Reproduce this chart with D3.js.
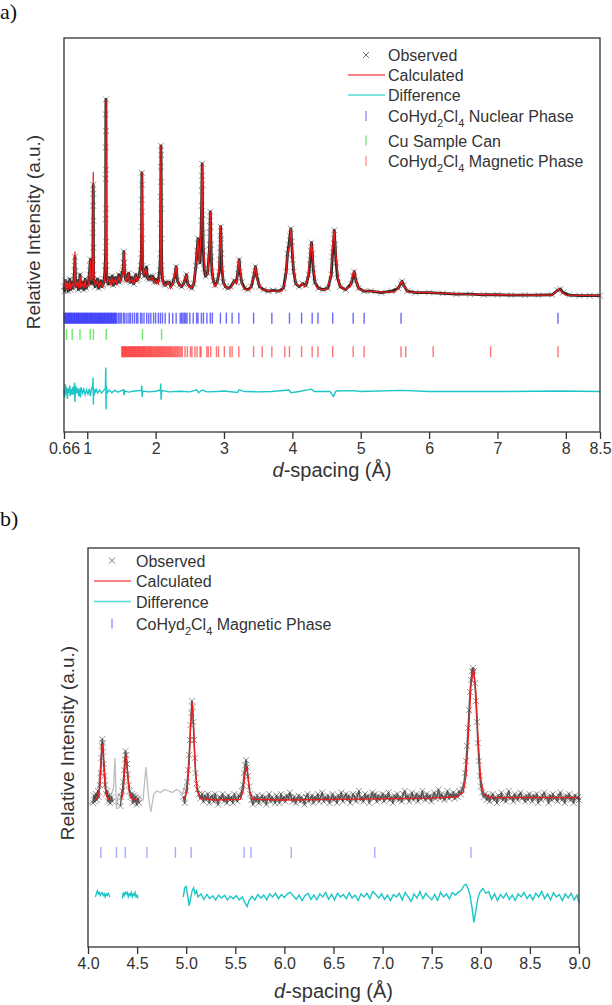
<!DOCTYPE html>
<html>
<head>
<meta charset="utf-8">
<script src="https://cdn.jsdelivr.net/npm/d3@7"></script>
<style>
body { margin: 0; background: #fff; }
svg { display: block; font-family: "Liberation Sans", Arial, sans-serif; }
</style>
</head>
<body>
<div id="chart"></div>
<script>
// ---------- panel a data (d-spacing in Å, intensity in a.u.) ----------
const obsA = [
    [0.66,0.2],[0.67,0.05],[0.68,0.4],[0.69,0.15],[0.70,0.25],[0.71,0.35],[0.72,0.05],[0.73,0.2],[0.745,0.45],[0.755,0.1],
    [0.765,0.25],[0.78,0.35],[0.79,0.15],[0.80,0.3],[0.81,0.55],[0.816,0.9],[0.82,1.2],[0.824,0.7],[0.83,0.3],[0.845,0.2],
    [0.86,0.4],[0.87,0.1],[0.885,0.3],[0.895,0.6],[0.905,0.15],[0.92,0.25],[0.935,0.35],[0.95,0.1],[0.96,0.3],[0.97,0.45],
    [0.985,0.15],[1.0,0.25],[1.015,0.3],[1.03,0.6],[1.04,0.9],[1.045,1.1],[1.05,0.5],[1.06,0.3],[1.075,0.55],
    [1.082,1.1],[1.084,2.0],[1.086,2.9],[1.087,3.6],[1.089,3.3],[1.09,2.4],[1.091,1.5],[1.093,0.6],
    [1.10,0.35],[1.115,0.2],[1.13,0.35],[1.15,0.45],[1.165,0.15],[1.18,0.3],[1.2,0.4],[1.215,0.2],[1.23,0.25],[1.25,0.45],[1.262,0.9],
    [1.268,1.35],[1.27,2.45],[1.2705,3.8],[1.271,4.85],[1.272,5.95],[1.2735,6.45],[1.275,5.4],[1.276,4.1],[1.277,2.8],[1.278,1.7],[1.28,0.9],
    [1.29,0.4],[1.305,0.3],[1.32,0.5],[1.335,0.3],[1.35,0.4],[1.365,0.55],[1.38,0.25],[1.395,0.4],[1.41,0.5],[1.425,0.3],
    [1.44,0.4],[1.46,0.6],[1.475,0.35],[1.49,0.45],[1.51,0.65],[1.525,0.75],[1.532,1.0],[1.535,1.37],[1.54,1.0],[1.545,0.7],
    [1.56,0.45],[1.575,0.4],[1.59,0.55],[1.605,0.65],[1.62,0.4],[1.635,0.35],[1.65,0.5],[1.665,0.4],[1.68,0.3],[1.695,0.45],
    [1.71,0.6],[1.725,0.4],[1.74,0.45],[1.76,0.55],[1.78,0.9],
    [1.792,1.3],[1.795,2.2],[1.797,3.1],[1.799,4.0],[1.801,3.6],[1.803,2.7],[1.805,1.8],[1.808,0.9],
    [1.82,0.7],[1.835,0.55],[1.85,0.7],[1.865,0.85],[1.88,0.5],[1.9,0.45],[1.92,0.55],[1.94,0.45],[1.96,0.55],[1.98,0.35],
    [2.0,0.45],[2.02,0.35],[2.04,0.4],[2.06,0.75],
    [2.07,1.3],[2.073,2.3],[2.075,3.2],[2.077,4.2],[2.078,4.9],[2.08,4.6],[2.082,3.7],[2.084,2.8],[2.086,1.8],[2.089,0.9],
    [2.1,0.45],[2.12,0.3],[2.14,0.25],[2.16,0.35],[2.18,0.3],[2.2,0.35],[2.22,0.2],[2.25,0.3],[2.28,0.55],[2.3,0.87],
    [2.32,0.4],[2.35,0.25],[2.38,0.2],[2.41,0.3],[2.44,0.5],[2.45,0.6],[2.47,0.3],[2.5,0.2],[2.53,0.15],[2.56,0.3],[2.59,0.9],
    [2.605,1.4],[2.62,1.8],[2.635,1.2],[2.65,1.0],[2.66,1.6],[2.668,2.4],[2.673,2.9],[2.676,3.4],[2.679,3.9],[2.681,4.3],
    [2.684,3.6],[2.688,2.6],[2.692,2.0],[2.698,1.4],[2.71,0.8],[2.73,0.55],[2.76,0.65],[2.78,1.2],
    [2.79,1.6],[2.795,2.0],[2.798,2.4],[2.80,2.7],[2.805,2.2],[2.81,1.6],[2.815,1.2],[2.825,0.7],
    [2.845,0.4],[2.87,0.25],[2.9,0.35],[2.93,0.7],
    [2.94,1.1],[2.945,1.5],[2.948,1.9],[2.952,2.2],[2.957,1.8],[2.963,1.3],[2.97,0.8],
    [2.99,0.35],[3.02,0.2],[3.06,0.15],[3.1,0.2],[3.15,0.4],[3.18,0.35],[3.21,0.8],[3.222,1.1],[3.235,0.7],[3.26,0.35],
    [3.3,0.15],[3.35,0.1],[3.4,0.2],[3.44,0.6],[3.46,0.87],[3.48,0.55],[3.52,0.2],[3.58,0.1],[3.65,0.05],[3.72,0.08],
    [3.8,0.05],[3.87,0.15],[3.91,0.7],[3.93,1.3],[3.95,1.6],[3.965,1.9],[3.978,2.13],[3.99,1.7],[4.005,1.1],[4.02,0.7],
    [4.05,0.3],[4.1,0.2],[4.15,0.3],[4.2,0.25],[4.24,0.6],[4.26,1.1],[4.27,1.4],[4.28,1.67],[4.292,1.3],[4.305,0.8],
    [4.33,0.35],[4.38,0.15],[4.45,0.1],[4.52,0.15],[4.57,0.6],[4.585,1.2],[4.597,1.5],[4.607,1.8],[4.613,2.08],[4.625,1.6],
    [4.64,1.0],[4.66,0.5],[4.7,0.2],[4.78,0.1],[4.86,0.3],[4.89,0.55],[4.905,0.7],[4.93,0.4],[4.97,0.15],[5.05,0.05],
    [5.15,0.05],[5.3,0.0],[5.45,0.05],[5.55,0.15],[5.585,0.3],[5.605,0.38],[5.63,0.25],[5.68,0.05],[5.8,0.0],[6.0,0.0],
    [6.2,-0.02],[6.4,-0.05],[6.6,-0.05],[6.8,-0.07],[7.0,-0.07],[7.2,-0.08],[7.4,-0.08],[7.6,-0.08],[7.8,-0.07],[7.88,0.08],
    [7.92,0.12],[7.96,0.0],[8.05,-0.08],[8.2,-0.1],[8.35,-0.1],[8.5,-0.1]
]

const calcA = [
    [0.66,0.15],[0.68,0.45],[0.69,0.1],[0.71,0.35],[0.72,0.1],[0.745,0.4],[0.755,0.12],[0.78,0.3],[0.80,0.2],[0.815,0.6],
    [0.82,1.37],[0.825,0.5],[0.835,0.2],[0.86,0.35],[0.875,0.15],[0.895,0.55],[0.905,0.2],[0.93,0.3],[0.95,0.15],[0.97,0.4],
    [0.985,0.2],[1.02,0.25],[1.035,0.7],[1.045,1.1],[1.055,0.4],[1.075,0.5],[1.083,1.5],[1.088,4.03],[1.093,1.3],[1.10,0.4],
    [1.12,0.25],[1.15,0.4],[1.17,0.2],[1.2,0.35],[1.225,0.2],[1.25,0.4],[1.265,0.9],[1.274,6.44],[1.283,0.9],[1.295,0.35],
    [1.32,0.45],[1.34,0.25],[1.36,0.5],[1.38,0.3],[1.41,0.45],[1.43,0.3],[1.46,0.55],[1.48,0.35],[1.51,0.6],[1.525,0.7],
    [1.537,1.37],[1.55,0.6],[1.57,0.4],[1.6,0.6],[1.62,0.35],[1.65,0.45],[1.68,0.3],[1.71,0.55],[1.73,0.4],[1.76,0.5],
    [1.785,0.9],[1.80,4.03],[1.815,0.9],[1.83,0.6],[1.86,0.8],[1.88,0.5],[1.91,0.45],[1.95,0.5],[1.98,0.35],[2.01,0.4],
    [2.04,0.3],[2.065,0.7],[2.078,4.91],[2.09,0.7],[2.11,0.3],[2.15,0.25],[2.19,0.35],[2.22,0.15],[2.26,0.35],[2.3,0.87],
    [2.33,0.3],[2.37,0.2],[2.40,0.25],[2.45,0.6],[2.48,0.2],[2.52,0.15],[2.56,0.3],[2.6,1.2],[2.62,1.8],[2.64,1.0],
    [2.665,2.0],[2.68,4.3],[2.70,1.5],[2.73,0.6],[2.76,0.6],[2.785,1.4],[2.80,2.7],[2.815,1.2],[2.84,0.4],[2.87,0.2],
    [2.90,0.3],[2.93,0.9],[2.95,2.23],[2.97,0.9],[3.0,0.25],[3.05,0.15],[3.1,0.15],[3.15,0.4],[3.18,0.3],[3.22,1.1],
    [3.26,0.3],[3.3,0.1],[3.38,0.1],[3.43,0.5],[3.46,0.87],[3.49,0.4],[3.55,0.1],[3.7,0.05],[3.85,0.05],[3.9,0.4],
    [3.93,1.3],[3.96,1.6],[3.98,2.13],[4.01,1.0],[4.05,0.3],[4.1,0.2],[4.14,0.3],[4.18,0.2],[4.23,0.5],[4.26,1.3],
    [4.28,1.67],[4.31,0.8],[4.35,0.2],[4.42,0.1],[4.5,0.1],[4.56,0.5],[4.59,1.6],[4.61,2.08],[4.64,1.2],[4.68,0.3],
    [4.75,0.1],[4.85,0.2],[4.88,0.6],[4.90,0.7],[4.93,0.4],[4.98,0.1],[5.1,0.05],[5.3,0.03],[5.5,0.02],[5.56,0.2],
    [5.6,0.38],[5.64,0.2],[5.7,0.02],[6.0,0.0],[6.5,-0.05],[7.0,-0.07],[7.5,-0.08],[7.8,-0.08],[7.86,0.05],[7.9,0.12],
    [7.95,0.0],[8.0,-0.08],[8.5,-0.1]
]

// observed - calculated, around its own zero line
const diffA = [
    [0.66,0.05],[0.67,-0.2],[0.68,0.25],[0.69,-0.1],[0.7,0.15],[0.71,-0.25],[0.72,0.1],[0.73,-0.05],[0.745,0.2],[0.75,-0.15],
    [0.76,0.1],[0.775,-0.1],[0.79,0.15],[0.80,-0.1],[0.815,0.3],[0.82,-0.35],[0.83,0.2],[0.845,-0.05],[0.86,0.12],[0.875,-0.15],
    [0.89,0.1],[0.9,-0.2],[0.91,0.15],[0.93,-0.05],[0.95,0.08],[0.97,-0.1],[0.99,0.05],[1.01,-0.08],[1.03,0.1],[1.045,-0.15],
    [1.06,0.05],[1.08,0.2],[1.085,0.47],[1.09,-0.43],[1.095,0.1],[1.11,-0.05],[1.13,0.08],[1.15,-0.05],[1.18,0.05],[1.21,-0.05],
    [1.24,0.04],[1.265,0.1],[1.271,0.8],[1.275,-0.6],[1.28,0.2],[1.29,-0.05],[1.32,0.05],[1.36,-0.04],[1.4,0.04],[1.45,-0.02],
    [1.5,0.03],[1.53,0.06],[1.537,-0.12],[1.55,0.02],[1.6,-0.02],[1.7,0.02],[1.79,0.04],[1.798,0.2],[1.803,-0.18],[1.81,0.02],
    [1.9,-0.01],[2.0,0.01],[2.07,0.05],[2.075,0.27],[2.08,-0.27],[2.09,0.03],[2.2,-0.01],[2.35,0.01],[2.5,-0.01],[2.6,0.06],
    [2.63,-0.04],[2.68,0.05],[2.75,-0.01],[2.9,0.0],[3.0,0.02],[3.2,-0.03],[3.22,0.06],[3.3,0.0],[3.5,-0.01],[3.7,0.0],
    [3.95,0.05],[3.98,-0.04],[4.1,0.0],[4.28,0.08],[4.32,0.0],[4.55,0.0],[4.6,-0.16],[4.64,0.02],[4.9,0.03],[5.0,0.0],
    [5.6,0.04],[6.0,0.0],[7.0,0.0],[7.9,0.02],[8.5,0.0]
]

const nuclearTicksA = [
    0.662,0.675,0.684,0.697,0.705,0.716,0.728,0.736,0.748,0.757,0.769,0.778,0.789,0.801,0.812,0.82,0.833,0.845,0.853,0.866,
    0.874,0.887,0.896,0.907,0.918,0.926,0.939,0.948,0.96,0.971,0.98,0.992,1.003,1.012,1.024,1.035,1.046,1.055,1.067,1.078,
    1.088,1.099,1.11,1.122,1.131,1.143,1.154,1.163,1.176,1.186,1.197,1.208,1.219,1.229,1.241,1.252,1.262,1.274,1.285,1.296,
    1.307,1.318,1.33,1.341,1.352,1.364,1.375,1.386,1.398,1.41,1.422,1.435,
    1.46,1.48,1.5,1.53,1.55,1.58,1.61,1.63,1.66,1.69,1.72,1.74,1.78,1.8,1.83,1.87,1.9,1.93,1.97,2.0,2.04,2.07,2.1,2.14,
    2.2,2.25,2.3,2.36,2.38,2.4,2.42,2.44,2.46,2.5,2.55,2.6,2.62,2.67,2.7,2.75,2.8,2.83,
    2.948,3.034,3.119,3.217,3.433,3.70,3.958,4.135,4.29,4.375,4.59,4.89,5.05,5.59,7.885
]
const cuTicksA = [0.696, 0.78, 0.894, 1.044, 1.090, 1.278, 1.808, 2.087]
const magneticTicksA = [
    1.505,1.515,1.525,1.537,1.548,1.558,1.57,1.58,1.592,1.603,1.614,1.625,1.636,1.648,1.659,1.67,1.682,1.693,1.705,1.716,
    1.728,1.74,1.752,1.764,1.776,1.788,1.8,1.812,1.824,1.836,1.848,1.861,1.873,1.886,1.898,1.911,1.924,1.937,1.95,1.963,
    1.976,1.99,2.003,2.017,2.03,2.044,2.058,2.072,2.086,2.1,2.115,2.13,2.145,2.16,2.175,2.19,2.205,2.22,2.236,2.252,
    2.268,2.285,2.3,2.318,2.336,2.354,2.372,2.39,2.43,2.464,2.51,2.531,2.575,2.606,2.65,2.663,2.749,2.77,2.806,2.89,
    2.92,3.005,3.087,3.119,3.217,3.433,3.559,3.70,3.89,3.958,4.135,4.29,4.375,4.59,4.89,5.05,5.59,5.658,6.06,6.90,7.885
]
const xTicksA = [0.66, 1, 2, 3, 4, 5, 6, 7, 8, 8.5]

// ---------- panel b data ----------
// null splits the pattern into the fitted ranges
const obsB = [
    [4.05,-0.1],[4.06,0.15],[4.07,-0.05],[4.08,0.2],[4.09,0.0],[4.1,0.3],[4.11,0.1],[4.12,0.5],[4.128,0.9],[4.135,1.4],
    [4.14,1.8],[4.145,2.03],[4.15,1.9],[4.155,1.6],[4.16,1.2],[4.168,0.8],[4.175,0.5],[4.185,0.2],[4.195,0.3],[4.205,-0.05],
    [4.215,0.15],[4.225,-0.1],[4.24,0.1],[4.25,-0.05],
    null,
    [4.33,-0.2],[4.34,0.1],[4.35,0.3],[4.36,0.6],[4.368,1.0],[4.375,1.35],[4.382,1.63],[4.39,1.5],[4.397,1.2],[4.405,0.85],
    [4.415,0.5],[4.425,0.3],[4.435,0.1],[4.445,0.2],[4.455,-0.1],[4.465,0.15],[4.475,-0.05],[4.485,0.1],[4.495,-0.15],[4.51,0.05],
    [4.52,-0.1],
    null,
    [4.97,0.1],[4.985,-0.1],[5.0,0.3],[5.01,0.6],[5.02,1.0],[5.03,1.5],[5.038,2.0],[5.045,2.5],[5.052,2.9],[5.058,3.3],
    [5.065,3.1],[5.072,2.6],[5.08,2.0],[5.088,1.4],[5.096,0.9],[5.105,0.55],[5.115,0.35],[5.13,0.2],[5.145,0.05],[5.16,0.2],
    [5.175,-0.05],[5.19,0.15],[5.205,0.0],[5.22,0.2],[5.235,-0.1],[5.25,0.1],[5.265,0.15],[5.28,-0.05],[5.295,0.2],[5.31,0.0],
    [5.325,-0.15],[5.34,0.1],[5.355,0.05],[5.37,0.2],[5.385,-0.05],[5.4,0.1],[5.415,-0.1],[5.43,0.15],[5.445,0.0],[5.46,0.1],
    [5.475,-0.1],[5.49,0.2],[5.505,0.05],[5.52,-0.05],[5.535,0.15],[5.55,0.1],[5.565,0.3],[5.578,0.5],[5.59,0.9],[5.6,1.15],
    [5.61,1.33],[5.62,1.1],[5.63,0.8],[5.64,0.45],[5.652,0.2],[5.665,0.0],[5.68,-0.15],[5.695,0.1],[5.71,-0.05],[5.725,0.15],
    [5.74,-0.1],[5.755,0.05],[5.77,0.15],[5.785,-0.05],[5.8,0.1],[5.815,-0.15],[5.83,0.05],[5.845,0.2],[5.86,-0.05],[5.875,0.1],
    [5.89,0.0],[5.905,-0.1],[5.92,0.15],[5.935,0.05],[5.95,-0.1],[5.965,0.2],[5.98,0.0],[5.995,0.1],[6.01,-0.05],[6.025,0.15],
    [6.04,0.05],[6.055,0.25],[6.07,0.1],[6.085,-0.05],[6.1,0.1],[6.115,-0.1],[6.13,0.05],[6.145,0.15],[6.16,-0.05],[6.175,0.1],
    [6.19,0.0],[6.205,-0.15],[6.22,0.1],[6.235,0.2],[6.25,-0.05],[6.265,0.05],[6.28,0.15],[6.295,-0.1],[6.31,0.1],[6.325,0.0],
    [6.34,0.2],[6.355,-0.05],[6.37,0.1],[6.385,0.25],[6.4,-0.05],[6.415,0.1],[6.43,0.0],[6.445,0.15],[6.46,-0.1],[6.475,0.05],
    [6.49,0.2],[6.505,0.0],[6.52,0.1],[6.535,-0.1],[6.55,0.15],[6.565,0.05],[6.58,0.25],[6.595,-0.05],[6.61,0.1],[6.625,0.2],
    [6.64,0.0],[6.655,0.15],[6.67,-0.1],[6.685,0.05],[6.7,0.2],[6.715,0.1],[6.73,-0.05],[6.745,0.15],[6.76,0.3],[6.775,0.0],
    [6.79,0.1],[6.805,-0.05],[6.82,0.2],[6.835,0.05],[6.85,0.15],[6.865,-0.1],[6.88,0.1],[6.895,0.25],[6.91,0.05],[6.925,0.2],
    [6.94,-0.05],[6.955,0.15],[6.97,0.0],[6.985,0.1],[7.0,0.2],[7.015,-0.05],[7.03,0.15],[7.045,0.05],[7.06,0.25],[7.075,0.0],
    [7.09,0.1],[7.105,-0.1],[7.12,0.15],[7.135,0.05],[7.15,0.2],[7.165,0.0],[7.18,0.1],[7.195,-0.05],[7.21,0.2],[7.225,0.3],
    [7.24,0.05],[7.255,0.15],[7.27,-0.05],[7.285,0.1],[7.3,0.25],[7.315,0.0],[7.33,0.1],[7.345,0.2],[7.36,-0.05],[7.375,0.15],
    [7.39,0.05],[7.405,0.3],[7.42,0.1],[7.435,0.0],[7.45,0.2],[7.465,0.05],[7.48,0.15],[7.495,-0.05],[7.51,0.1],[7.525,0.25],
    [7.54,0.05],[7.555,0.15],[7.57,0.35],[7.585,0.05],[7.6,0.2],[7.615,0.1],[7.63,0.0],[7.645,0.15],[7.66,0.3],[7.675,0.05],
    [7.69,0.2],[7.705,0.1],[7.72,0.25],[7.735,0.05],[7.75,0.2],[7.765,0.1],[7.78,0.3],[7.795,0.2],[7.81,0.35],[7.825,0.5],
    [7.84,0.9],[7.85,1.3],[7.86,1.8],[7.87,2.4],[7.88,3.0],[7.89,3.6],[7.9,4.0],[7.91,4.3],[7.92,4.4],[7.93,4.3],
    [7.94,3.9],[7.95,3.3],[7.96,2.6],[7.97,1.9],[7.98,1.3],[7.99,0.8],[8.0,0.45],[8.015,0.25],[8.03,0.1],[8.045,0.2],
    [8.06,0.0],[8.075,0.15],[8.09,-0.05],[8.105,0.1],[8.12,0.2],[8.135,0.0],[8.15,0.1],[8.165,-0.1],[8.18,0.15],[8.195,0.05],
    [8.21,0.25],[8.225,0.0],[8.24,0.1],[8.255,-0.05],[8.27,0.15],[8.285,0.3],[8.3,0.05],[8.315,0.1],[8.33,-0.05],[8.345,0.2],
    [8.36,0.1],[8.375,0.0],[8.39,0.15],[8.405,0.25],[8.42,0.05],[8.435,0.1],[8.45,-0.05],[8.465,0.15],[8.48,0.0],[8.495,0.2],
    [8.51,0.1],[8.525,-0.05],[8.54,0.15],[8.555,0.05],[8.57,0.2],[8.585,-0.1],[8.6,0.1],[8.615,0.0],[8.63,0.15],[8.645,0.25],
    [8.66,0.05],[8.675,0.1],[8.69,-0.1],[8.705,0.15],[8.72,0.0],[8.735,0.2],[8.75,0.05],[8.765,0.1],[8.78,-0.05],[8.795,0.15],
    [8.81,0.25],[8.825,0.0],[8.84,0.1],[8.855,-0.1],[8.87,0.15],[8.885,0.05],[8.9,0.2],[8.915,0.0],[8.93,0.1],[8.945,-0.1],
    [8.96,0.15],[8.975,0.05],[8.99,0.1],[9.0,0.0]
]

// full observed pattern below 5 Å, shown in grey (excluded from the fit)
const excludedB = [
    [4.0,-0.15],[4.03,-0.1],[4.06,0.0],[4.1,0.3],[4.147,1.9],[4.19,0.3],[4.23,0.1],[4.26,0.4],[4.275,1.4],[4.29,-0.3],
    [4.31,0.2],[4.34,0.1],[4.387,1.5],[4.42,0.3],[4.47,0.2],[4.52,0.1],[4.56,0.0],[4.59,1.1],[4.62,0.0],[4.64,-0.4],
    [4.67,0.2],[4.70,0.3],[4.74,0.25],[4.78,0.35],[4.82,0.3],[4.86,0.25],[4.90,0.35],[4.93,0.3],[4.96,0.2],[4.99,0.5]
]

const calcB = [
    [4.07,0.0],[4.1,0.1],[4.12,0.4],[4.13,1.0],[4.14,1.6],[4.147,1.85],[4.155,1.6],[4.165,1.0],[4.175,0.45],[4.19,0.12],
    [4.21,0.02],[4.23,0.0],
    null,
    [4.34,0.0],[4.36,0.3],[4.37,0.8],[4.38,1.3],[4.387,1.5],[4.395,1.3],[4.405,0.8],[4.42,0.3],[4.44,0.05],[4.5,0.0],
    null,
    [4.98,0.05],[5.01,0.3],[5.03,1.2],[5.045,2.5],[5.061,3.25],[5.075,2.5],[5.09,1.2],[5.11,0.35],[5.14,0.05],[5.3,0.0],
    [5.55,0.02],[5.58,0.3],[5.6,0.9],[5.611,1.13],[5.625,0.85],[5.645,0.3],[5.68,0.02],[6.0,0.0],[6.5,0.02],[7.0,0.04],
    [7.5,0.06],[7.75,0.1],[7.82,0.25],[7.85,0.8],[7.875,2.2],[7.9,3.8],[7.925,4.37],[7.95,3.6],[7.975,1.9],[8.0,0.7],
    [8.03,0.2],[8.1,0.08],[8.5,0.08],[9.0,0.08]
]

const diffB = [
    [4.075,0.0],[4.085,0.1],[4.095,0.2],[4.105,0.1],[4.115,0.15],[4.125,0.05],[4.135,0.12],[4.145,0.15],[4.155,0.05],[4.165,0.1],
    [4.175,0.0],[4.185,0.1],[4.195,0.05],[4.205,0.12],[4.215,0.05],[4.225,0.0],
    null,
    [4.35,-0.05],[4.36,0.15],[4.37,0.05],[4.38,0.15],[4.39,0.1],[4.4,0.15],[4.41,0.0],[4.42,0.1],[4.43,0.05],[4.44,0.15],
    [4.45,0.0],[4.46,0.1],[4.47,0.05],[4.48,0.15],[4.49,0.0],[4.5,0.05],[4.51,-0.05],
    null,
    [4.97,0.0],[4.985,0.3],[5.0,0.35],[5.015,0.05],[5.03,-0.3],[5.045,-0.05],[5.06,0.2],[5.075,0.3],[5.09,0.1],[5.105,0.2],
    [5.12,0.0],[5.15,0.1],[5.18,-0.08],[5.21,0.08],[5.24,-0.05],[5.27,0.04],[5.3,-0.1],[5.33,0.06],[5.36,-0.04],[5.39,0.05],
    [5.42,-0.1],[5.45,0.02],[5.48,-0.06],[5.51,0.04],[5.54,-0.1],[5.57,0.0],[5.6,-0.2],[5.62,-0.32],[5.64,-0.12],[5.67,0.02],
    [5.7,-0.1],[5.73,0.08],[5.76,-0.04],[5.79,0.06],[5.82,-0.1],[5.85,0.1],[5.88,0.0],[5.91,0.12],[5.94,-0.06],[5.97,0.08],
    [6.0,-0.02],[6.03,0.1],[6.06,0.15],[6.09,0.04],[6.12,-0.08],[6.15,0.06],[6.18,-0.12],[6.21,0.04],[6.24,0.12],[6.27,-0.08],
    [6.3,0.06],[6.33,-0.1],[6.36,0.1],[6.39,0.0],[6.42,0.15],[6.45,-0.08],[6.48,0.08],[6.51,-0.1],[6.54,0.12],[6.57,0.0],
    [6.6,0.08],[6.63,-0.06],[6.66,0.14],[6.69,-0.04],[6.72,0.06],[6.75,-0.12],[6.78,0.1],[6.81,0.0],[6.84,0.12],[6.87,-0.06],
    [6.9,0.18],[6.93,0.08],[6.96,-0.04],[6.99,0.1],[7.02,-0.08],[7.05,0.06],[7.08,-0.12],[7.11,0.08],[7.14,0.0],[7.17,0.12],
    [7.2,-0.1],[7.23,0.15],[7.26,0.0],[7.29,-0.15],[7.32,0.1],[7.35,-0.04],[7.38,0.18],[7.41,-0.06],[7.44,0.12],[7.47,0.0],
    [7.5,-0.1],[7.53,0.08],[7.56,-0.12],[7.59,0.15],[7.62,0.0],[7.65,0.1],[7.68,-0.06],[7.71,0.14],[7.74,0.06],[7.77,0.15],
    [7.8,0.22],[7.83,0.38],[7.85,0.42],[7.87,0.28],[7.89,0.05],[7.91,-0.35],[7.93,-0.85],[7.95,-0.45],[7.97,-0.05],[7.99,0.15],
    [8.02,0.28],[8.05,0.12],[8.08,0.18],[8.11,-0.08],[8.14,0.1],[8.17,-0.12],[8.2,0.08],[8.23,-0.04],[8.26,0.12],[8.29,-0.08],
    [8.32,0.06],[8.35,-0.12],[8.38,0.1],[8.41,0.0],[8.44,0.15],[8.47,-0.06],[8.5,0.08],[8.53,-0.1],[8.56,0.12],[8.59,0.0],
    [8.62,0.18],[8.65,-0.06],[8.68,0.1],[8.71,-0.1],[8.74,0.14],[8.77,0.0],[8.8,0.08],[8.83,-0.12],[8.86,0.1],[8.89,-0.04],
    [8.92,0.12],[8.95,-0.1],[8.98,0.06],[9.0,-0.2]
]

const magneticTicksB = [4.13, 4.29, 4.38, 4.60, 4.89, 5.05, 5.59, 5.66, 6.07, 6.92, 7.90]
const xTicksB = [4.0, 4.5, 5.0, 5.5, 6.0, 6.5, 7.0, 7.5, 8.0, 8.5, 9.0]

const legendA = ["Observed", "Calculated", "Difference", "CoHyd_2Cl_4 Nuclear Phase", "Cu Sample Can", "CoHyd_2Cl_4 Magnetic Phase"]
const legendB = ["Observed", "Calculated", "Difference", "CoHyd_2Cl_4 Magnetic Phase"]

// ---------- drawing ----------
const textColor = "#333"
const crossPath = "M-3,-3L3,3M-3,3L3,-3"

var svg = d3.select("#chart")
    .append("svg")
    .attr("width", 612)
    .attr("height", 1005)

// text with "_n" subscripts
function addLabel(sel, label) {
    const parts = label.split(/_(\d)/)
    let shift = 0
    parts.forEach((p, i) => {
        if (p === "") return
        const t = sel.append("tspan").text(p)
        if (i % 2 === 1) {
            t.attr("dy", 5).style("font-size", "11px")
            shift = -5
        } else if (shift) {
            t.attr("dy", shift)
            shift = 0
        }
    })
}

function drawPanel(p) {
    const g = svg.append("g")

    const x = d3.scaleLinear().domain(p.xDomain).range([p.left, p.right])
    const y = d3.scaleLinear().domain(p.yDomain).range([p.bottom, p.top])

    const line = d3.line()
        .defined(d => d !== null)
        .x(d => x(d[0]))
        .y(d => y(d[1]))

    // difference curve, shifted below the pattern
    g.append("path")
        .datum(p.diff)
        .attr("fill", "none")
        .attr("stroke", "#1cc6c6")
        .attr("stroke-width", 1.4)
        .attr("d", d3.line()
            .defined(d => d !== null)
            .x(d => x(d[0]))
            .y(d => y(d[1] + p.diffBase)))

    // reflection ticks
    p.tickRows.forEach(row => {
        g.append("g")
            .selectAll("line")
            .data(row.ticks)
            .join("line")
            .attr("x1", d => x(d))
            .attr("x2", d => x(d))
            .attr("y1", y(row.level) - 5.5)
            .attr("y2", y(row.level) + 5.5)
            .attr("stroke", row.color)
            .attr("stroke-width", row.width)
            .attr("opacity", row.opacity)
    })

    // excluded data (grey)
    if (p.excluded) {
        g.append("path")
            .datum(p.excluded)
            .attr("fill", "none")
            .attr("stroke", "#bdbdbd")
            .attr("stroke-width", 1.3)
            .attr("d", line)
    }

    // observed
    g.append("path")
        .datum(p.obs)
        .attr("fill", "none")
        .attr("stroke", "#1a1a1a")
        .attr("stroke-width", p.obsWidth)
        .attr("stroke-linejoin", "round")
        .attr("opacity", p.obsOpacity)
        .attr("d", line)

    g.append("g")
        .selectAll("path")
        .data(p.obs.filter(d => d !== null))
        .join("path")
        .attr("d", crossPath)
        .attr("transform", d => `translate(${x(d[0])},${y(d[1])})`)
        .attr("fill", "none")
        .attr("stroke", "#444")
        .attr("stroke-width", 0.8)
        .attr("opacity", 0.7)

    // calculated
    g.append("path")
        .datum(p.calc)
        .attr("fill", "none")
        .attr("stroke", "#ee1c1c")
        .attr("stroke-width", 1.3)
        .attr("d", line)

    // frame
    g.append("rect")
        .attr("x", p.left)
        .attr("y", p.top)
        .attr("width", p.right - p.left)
        .attr("height", p.bottom - p.top)
        .attr("fill", "none")
        .attr("stroke", "#333")
        .attr("stroke-width", 1.3)

    // x axis
    const axis = g.append("g")
        .attr("transform", `translate(0,${p.bottom})`)
        .call(d3.axisBottom(x)
            .tickValues(p.xTicks)
            .tickFormat(p.tickFormat)
            .tickSize(7)
            .tickSizeOuter(0)
            .tickPadding(4))
    axis.select(".domain").remove()
    axis.selectAll("line").attr("stroke", "#333").attr("stroke-width", 1.3)
    axis.selectAll("text")
        .attr("fill", textColor)
        .style("font-size", "16px")
        .style("font-family", "'Liberation Sans', Arial, sans-serif")

    const title = g.append("text")
        .attr("x", (p.left + p.right) / 2)
        .attr("y", p.titleY)
        .attr("text-anchor", "middle")
        .attr("fill", textColor)
        .style("font-size", "20px")
    title.append("tspan").style("font-style", "italic").text("d")
    title.append("tspan").text("-spacing (\u00c5)")

    g.append("text")
        .attr("transform", `translate(${p.yLabelX},${p.yLabelY}) rotate(-90)`)
        .attr("text-anchor", "middle")
        .attr("dominant-baseline", "central")
        .attr("fill", textColor)
        .style("font-size", "19px")
        .text("Relative Intensity (a.u.)")

    g.append("text")
        .attr("x", 0)
        .attr("y", p.tagY)
        .attr("fill", "#111")
        .style("font-family", "'Liberation Serif', 'Times New Roman', serif")
        .style("font-size", "22px")
        .text(p.tag)

    // legend
    const lg = g.append("g")
    p.legend.forEach((label, i) => {
        const sym = p.legendSymbols[i]
        const by = p.legendRows[i]
        const cy = by - 6
        if (sym.type === "cross") {
            lg.append("path")
                .attr("d", crossPath)
                .attr("transform", `translate(${p.legendSymX},${cy})`)
                .attr("fill", "none")
                .attr("stroke", "#777")
                .attr("stroke-width", 1)
        } else if (sym.type === "line") {
            lg.append("line")
                .attr("x1", p.legendSymX - 18).attr("x2", p.legendSymX + 19)
                .attr("y1", cy).attr("y2", cy)
                .attr("stroke", sym.color)
                .attr("stroke-width", 1.5)
        } else {
            lg.append("line")
                .attr("x1", p.legendSymX).attr("x2", p.legendSymX)
                .attr("y1", cy - 5).attr("y2", cy + 5)
                .attr("stroke", sym.color)
                .attr("stroke-width", 1.6)
        }
        const t = lg.append("text")
            .attr("x", p.legendTextX)
            .attr("y", by)
            .attr("fill", textColor)
            .style("font-size", "16px")
        addLabel(t, label)
    })
}

drawPanel({
    tag: "a)", tagY: 19,
    left: 64, right: 600, top: 38, bottom: 432,
    xDomain: [0.66, 8.5], yDomain: [-4.65, 8.5],
    xTicks: xTicksA, tickFormat: d => d,
    obs: obsA, calc: calcA, diff: diffA, diffBase: -3.3,
    obsWidth: 2.8, obsOpacity: 0.95,
    tickRows: [
        { ticks: nuclearTicksA, level: -0.85, color: "#2a2aff", width: 1.4, opacity: 0.7 },
        { ticks: cuTicksA, level: -1.4, color: "#3ee03e", width: 1.4, opacity: 0.75 },
        { ticks: magneticTicksA, level: -1.97, color: "#ff1a1a", width: 1.4, opacity: 0.6 }
    ],
    titleY: 477, yLabelX: 33, yLabelY: 232,
    legend: legendA,
    legendSymbols: [
        { type: "cross" }, { type: "line", color: "#f25a5a" }, { type: "line", color: "#5ad8d8" },
        { type: "tick", color: "#a0a0ff" }, { type: "tick", color: "#8ee88e" }, { type: "tick", color: "#ffa0a0" }
    ],
    legendRows: [61, 81, 101, 122, 146.5, 167],
    legendSymX: 366, legendTextX: 388
})

drawPanel({
    tag: "b)", tagY: 526,
    left: 88, right: 579, top: 548, bottom: 947,
    xDomain: [4, 9], yDomain: [-4.9, 8.4],
    xTicks: xTicksB, tickFormat: d3.format(".1f"),
    obs: obsB, calc: calcB, diff: diffB, diffBase: -3.23, excluded: excludedB,
    obsWidth: 1.5, obsOpacity: 0.7,
    tickRows: [
        { ticks: magneticTicksB, level: -1.75, color: "#7a7aff", width: 1.5, opacity: 0.6 }
    ],
    titleY: 998, yLabelX: 67, yLabelY: 743,
    legend: legendB,
    legendSymbols: [
        { type: "cross" }, { type: "line", color: "#f25a5a" }, { type: "line", color: "#5ad8d8" },
        { type: "tick", color: "#a0a0ff" }
    ],
    legendRows: [566.5, 587, 607.5, 629.5],
    legendSymX: 112, legendTextX: 136
})
</script>
</body>
</html>
